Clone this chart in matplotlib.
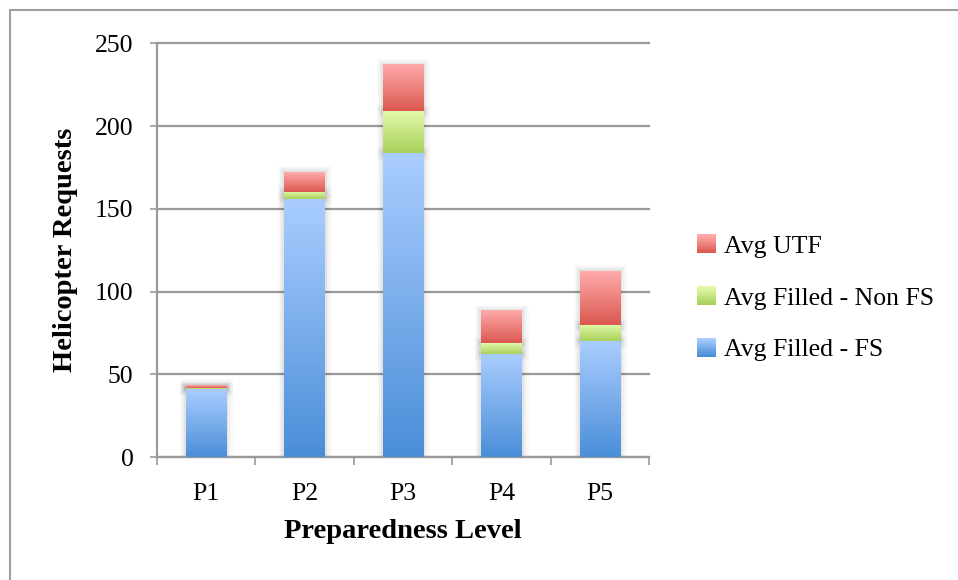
import numpy as np
import matplotlib
matplotlib.use("Agg")
import matplotlib.pyplot as plt
from matplotlib.colors import LinearSegmentedColormap
from matplotlib.legend_handler import HandlerBase
from matplotlib.patches import Rectangle
import matplotlib.patheffects as pe

# Data
levels = ["P1", "P2", "P3", "P4", "P5"]
filled_fs = [41, 156, 184, 62.5, 70]
filled_non_fs = [1, 4.5, 25, 6.5, 10]
utf = [1.5, 12, 28, 19.5, 32.5]
series_names = ["Avg Filled - FS", "Avg Filled - Non FS", "Avg UTF"]
y_ticks = [0, 50, 100, 150, 200, 250]

# Gradient end colours (top, bottom) for each series
gradients = [
    ("#aacdff", "#4a8ed8"),
    ("#e3f9aa", "#a8d05a"),
    ("#ffabab", "#db5850"),
]

plt.rcParams["font.family"] = ["Liberation Serif", "DejaVu Serif"]
FS = 18.5
FS_LABEL = 20.5
GRID = "#9a9a9a"

fig = plt.figure(figsize=(9.58, 5.80), dpi=100)
ax = fig.add_axes([157 / 958, 1 - 457 / 580, (649 - 157) / 958, (457 - 43.5) / 580])

x = np.arange(len(levels))
width = 0.41
bottoms = np.zeros(len(levels))
shadow = [pe.Stroke(linewidth=9, foreground="k", alpha=0.025),
          pe.Stroke(linewidth=6, foreground="k", alpha=0.035),
          pe.Stroke(linewidth=3, foreground="k", alpha=0.05),
          pe.Normal()]

for vals, (top_c, bot_c), name in zip([filled_fs, filled_non_fs, utf], gradients, series_names):
    cmap = LinearSegmentedColormap.from_list(name, [bot_c, top_c])
    bars = ax.bar(x, vals, width, bottom=bottoms, color=top_c, edgecolor="none",
                  zorder=2, path_effects=shadow)
    grad = np.linspace(0, 1, 128).reshape(-1, 1)
    for b in bars:
        bx, by = b.get_x(), b.get_y()
        ax.imshow(grad, extent=[bx, bx + b.get_width(), by, by + b.get_height()],
                  cmap=cmap, origin="lower", aspect="auto", zorder=3,
                  interpolation="bilinear")
    bottoms += np.array(vals)

ax.set_xlim(-0.5, len(levels) - 0.5)
ax.set_ylim(0, 250)
ax.set_yticks(y_ticks)
ax.set_yticklabels([str(t) for t in y_ticks], fontsize=FS)
ax.set_xticks(x)
ax.set_xticklabels(levels, fontsize=FS)
ax.set_xticks(np.arange(len(levels) + 1) - 0.5, minor=True)

ax.yaxis.grid(True, color=GRID, linewidth=1.6, zorder=0)
for gl in ax.get_ygridlines():
    gl.set_clip_on(False)
ax.set_axisbelow(True)
for side in ["top", "right"]:
    ax.spines[side].set_visible(False)
for side in ["left", "bottom"]:
    ax.spines[side].set_color(GRID)
    ax.spines[side].set_linewidth(1.6)

ax.tick_params(axis="y", which="major", length=5, width=1.2, color=GRID, pad=12)
ax.tick_params(axis="x", which="major", length=0, pad=19)
ax.tick_params(axis="x", which="minor", length=6, width=1.2, color=GRID)

ax.set_ylabel("Helicopter Requests", fontsize=FS_LABEL, fontweight="bold", labelpad=12)
ax.set_xlabel("Preparedness Level", fontsize=FS_LABEL, fontweight="bold", labelpad=10)


class GradientHandler(HandlerBase):
    def __init__(self, top_c, bot_c):
        super().__init__()
        self.cmap = LinearSegmentedColormap.from_list("h", [bot_c, top_c])

    def create_artists(self, legend, orig_handle, xdescent, ydescent, width, height,
                       fontsize, trans):
        n = 12
        side = min(width, height * 1.0)
        x0 = -xdescent + width - side
        y0 = -ydescent + (height - side) / 2
        arts = []
        for i in range(n):
            r = Rectangle((x0, y0 + side * i / n), side, side / n + 0.3,
                          facecolor=self.cmap(i / (n - 1)), edgecolor="none",
                          transform=trans)
            arts.append(r)
        return arts


handles = [Rectangle((0, 0), 1, 1) for _ in series_names]
order = [2, 1, 0]
leg = ax.legend([handles[i] for i in order], [series_names[i] for i in order],
                handler_map={handles[i]: GradientHandler(*gradients[i]) for i in range(3)},
                loc="center left", bbox_to_anchor=(697 / 958, 1 - 298 / 580),
                bbox_transform=fig.transFigure, frameon=False, fontsize=FS,
                handlelength=0.75, handleheight=0.75, handletextpad=0.3,
                labelspacing=1.1, borderpad=0, borderaxespad=0)

# Outer chart frame
fig.patches.append(Rectangle((9.5 / 958, -0.5), 2.0, 1.5 - 9.5 / 580, transform=fig.transFigure,
                             fill=False, edgecolor="#a0a0a0", linewidth=1.5))

fig.savefig("out.png", dpi=100)
